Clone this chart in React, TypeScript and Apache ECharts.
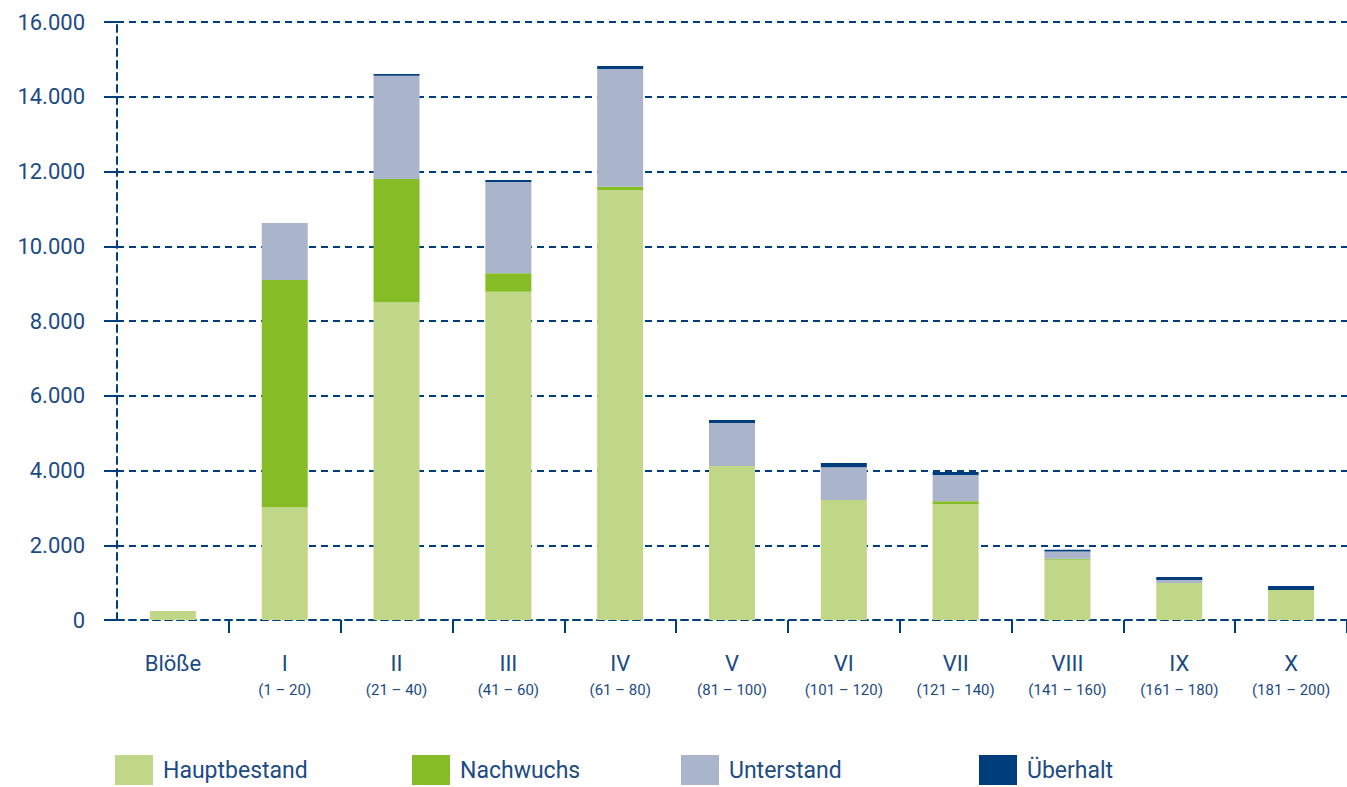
import React, { useEffect, useRef } from "react";
import * as echarts from "echarts";

const categories = ["Blöße", "I", "II", "III", "IV", "V", "VI", "VII", "VIII", "IX", "X"];
const subLabels = ["", "(1 – 20)", "(21 – 40)", "(41 – 60)", "(61 – 80)", "(81 – 100)", "(101 – 120)", "(121 – 140)", "(141 – 160)", "(161 – 180)", "(181 – 200)"];
const hauptbestand = [240, 3020, 8510, 8780, 11500, 4120, 3210, 3100, 1610, 990, 800];
const nachwuchs = [0, 6080, 3290, 500, 90, 0, 0, 80, 30, 0, 0];
const unterstand = [0, 1520, 2760, 2440, 3150, 1150, 880, 700, 190, 80, 0];
const ueberhalt = [0, 0, 50, 50, 80, 80, 110, 80, 50, 80, 110];

const NAVY = "#003d7c";
const TEXT = "#1c4b84";
const FONT = "Roboto, 'DejaVu Sans', sans-serif";

export default function App() {
  const ref = useRef<HTMLDivElement>(null);
  useEffect(() => {
    if (!ref.current) return;
    const chart = echarts.init(ref.current, null, { renderer: "svg" });
    const mk = (name: string, data: number[], color: string) => ({
      name,
      type: "bar",
      stack: "total",
      data,
      barWidth: 46,
      itemStyle: { color },
      emphasis: { disabled: true },
    });
    const legendAt = (name: string, left: number) => ({
      data: [name],
      left,
      top: 755,
      padding: 0,
      itemWidth: 38,
      itemHeight: 30,
      itemGap: 10,
      icon: "rect",
      textStyle: { color: TEXT, fontSize: 23, fontFamily: FONT, padding: [0, 0, 0, 5] },
      selectedMode: false,
    });
    chart.setOption({
      animation: false,
      textStyle: { fontFamily: FONT },
      grid: { left: 117, right: 0, top: 22, bottom: 167 },
      legend: [
        legendAt("Hauptbestand", 115),
        legendAt("Nachwuchs", 412),
        legendAt("Unterstand", 681),
        legendAt("Überhalt", 979),
      ],
      xAxis: {
        type: "category",
        data: categories,
        boundaryGap: true,
        axisLine: { lineStyle: { color: NAVY, width: 2, type: [7, 5] } },
        axisTick: {
          show: true,
          length: 13,
          interval: (index: number) => index !== 0,
          lineStyle: { color: NAVY, width: 2 },
        },
        axisLabel: {
          margin: 29,
          interval: 0,
          formatter: (v: string, i: number) =>
            subLabels[i] ? `{a|${v}}\n{b|${subLabels[i]}}` : `{a|${v}}`,
          rich: {
            a: { fontSize: 22, lineHeight: 28, color: TEXT, fontFamily: FONT },
            b: { fontSize: 15, lineHeight: 26, color: TEXT, fontFamily: FONT },
          },
        },
      },
      yAxis: {
        type: "value",
        min: 0,
        max: 16000,
        interval: 2000,
        axisLine: { show: true, lineStyle: { color: NAVY, width: 2, type: [7, 5] } },
        axisTick: { show: true, length: 13, lineStyle: { color: NAVY, width: 2 } },
        axisLabel: {
          margin: 32,
          color: TEXT,
          fontSize: 22,
          fontFamily: FONT,
          formatter: (v: number) => v.toLocaleString("de-DE"),
        },
        splitLine: { show: true, lineStyle: { color: NAVY, width: 2, type: [7, 5] } },
      },
      series: [
        mk("Hauptbestand", hauptbestand, "#bfd786"),
        mk("Nachwuchs", nachwuchs, "#86bc25"),
        mk("Unterstand", unterstand, "#aab5cc"),
        mk("Überhalt", ueberhalt, NAVY),
      ],
    });
    return () => chart.dispose();
  }, []);
  return <div ref={ref} style={{ width: 1347, height: 787, position: "absolute", left: 0, top: 0 }} />;
}
